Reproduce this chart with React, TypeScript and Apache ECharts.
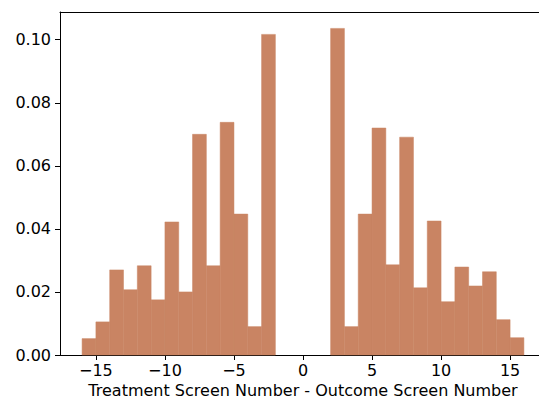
import React, { useEffect, useRef } from "react";
import * as echarts from "echarts";

// histogram bins: left edges, width 1
const leftBinStarts = [-16, -15, -14, -13, -12, -11, -10, -9, -8, -7, -6, -5, -4, -3];
const leftDensity = [0.0052, 0.0105, 0.027, 0.0207, 0.0283, 0.0175, 0.0422, 0.02, 0.07, 0.0283, 0.0738, 0.0447, 0.009, 0.1017];
const rightBinStarts = [2, 3, 4, 5, 6, 7, 8, 9, 10, 11, 12, 13, 14, 15];
const rightDensity = [0.1036, 0.009, 0.0447, 0.072, 0.0286, 0.0691, 0.0213, 0.0425, 0.0169, 0.0279, 0.0219, 0.0264, 0.0112, 0.0055];
const binWidth = 1;

const xTicks = [-15, -10, -5, 0, 5, 10, 15];
const yTicks = [0, 0.02, 0.04, 0.06, 0.08, 0.1];

const App: React.FC = () => {
  const chartRef = useRef<HTMLDivElement>(null);

  useEffect(() => {
    if (!chartRef.current) return;
    document.body.style.margin = "0";
    document.documentElement.style.overflow = "hidden";
    const chart = echarts.init(chartRef.current, null, { renderer: "svg" });

    const bins = [
      ...leftBinStarts.map((s, i) => [s, s + binWidth, leftDensity[i]]),
      ...rightBinStarts.map((s, i) => [s, s + binWidth, rightDensity[i]]),
    ];

    const font = "DejaVu Sans";

    const option = {
      animation: false,
      grid: {
        left: 60,
        top: 12,
        width: 486,
        height: 343,
        outerBoundsMode: "none",
        containLabel: false,
        show: false,
      },
      xAxis: [
        {
          type: "value",
          min: -17.6,
          max: 17.6,
          name: "Treatment Screen Number - Outcome Screen Number",
          nameLocation: "middle",
          nameGap: 26,
          nameTextStyle: { fontFamily: font, fontSize: 16, color: "#000" },
          splitLine: { show: false },
          axisLine: { show: true, onZero: false, lineStyle: { color: "#000", width: 1 } },
          axisTick: { show: true, customValues: xTicks, length: 5, lineStyle: { color: "#000" } },
          axisLabel: {
            customValues: xTicks,
            margin: 7,
            fontFamily: font,
            fontSize: 16,
            color: "#000",
            formatter: (v: number) => (v < 0 ? "\u2212" + Math.abs(v) : String(v)),
          },
        },
        {
          // top spine
          type: "value",
          position: "top",
          min: -17.6,
          max: 17.6,
          splitLine: { show: false },
          axisLine: { show: true, onZero: false, lineStyle: { color: "#000", width: 1 } },
          axisTick: { show: false },
          axisLabel: { show: false },
        },
      ],
      yAxis: {
        type: "value",
        min: 0,
        max: 0.1088,
        splitLine: { show: false },
        axisLine: { show: true, onZero: false, lineStyle: { color: "#000", width: 1 } },
        axisTick: { show: true, customValues: yTicks, length: 5, lineStyle: { color: "#000" } },
        axisLabel: {
          customValues: yTicks,
          margin: 9,
          fontFamily: font,
          fontSize: 16,
          color: "#000",
          formatter: (v: number) => v.toFixed(2),
        },
      },
      series: [
        {
          type: "custom",
          data: bins,
          encode: { x: [0, 1], y: 2 },
          renderItem: (params: any, api: any) => {
            const p0 = api.coord([api.value(0), api.value(2)]);
            const p1 = api.coord([api.value(1), 0]);
            return {
              type: "rect",
              shape: { x: p0[0], y: p0[1], width: p1[0] - p0[0], height: p1[1] - p0[1] },
              style: { fill: "#c98463", stroke: "#c98463", lineWidth: 0.5 },
            };
          },
        },
      ],
    };

    chart.setOption(option);
    return () => {
      chart.dispose();
    };
  }, []);

  return <div ref={chartRef} style={{ width: 539, height: 403 }} />;
};

export default App;
